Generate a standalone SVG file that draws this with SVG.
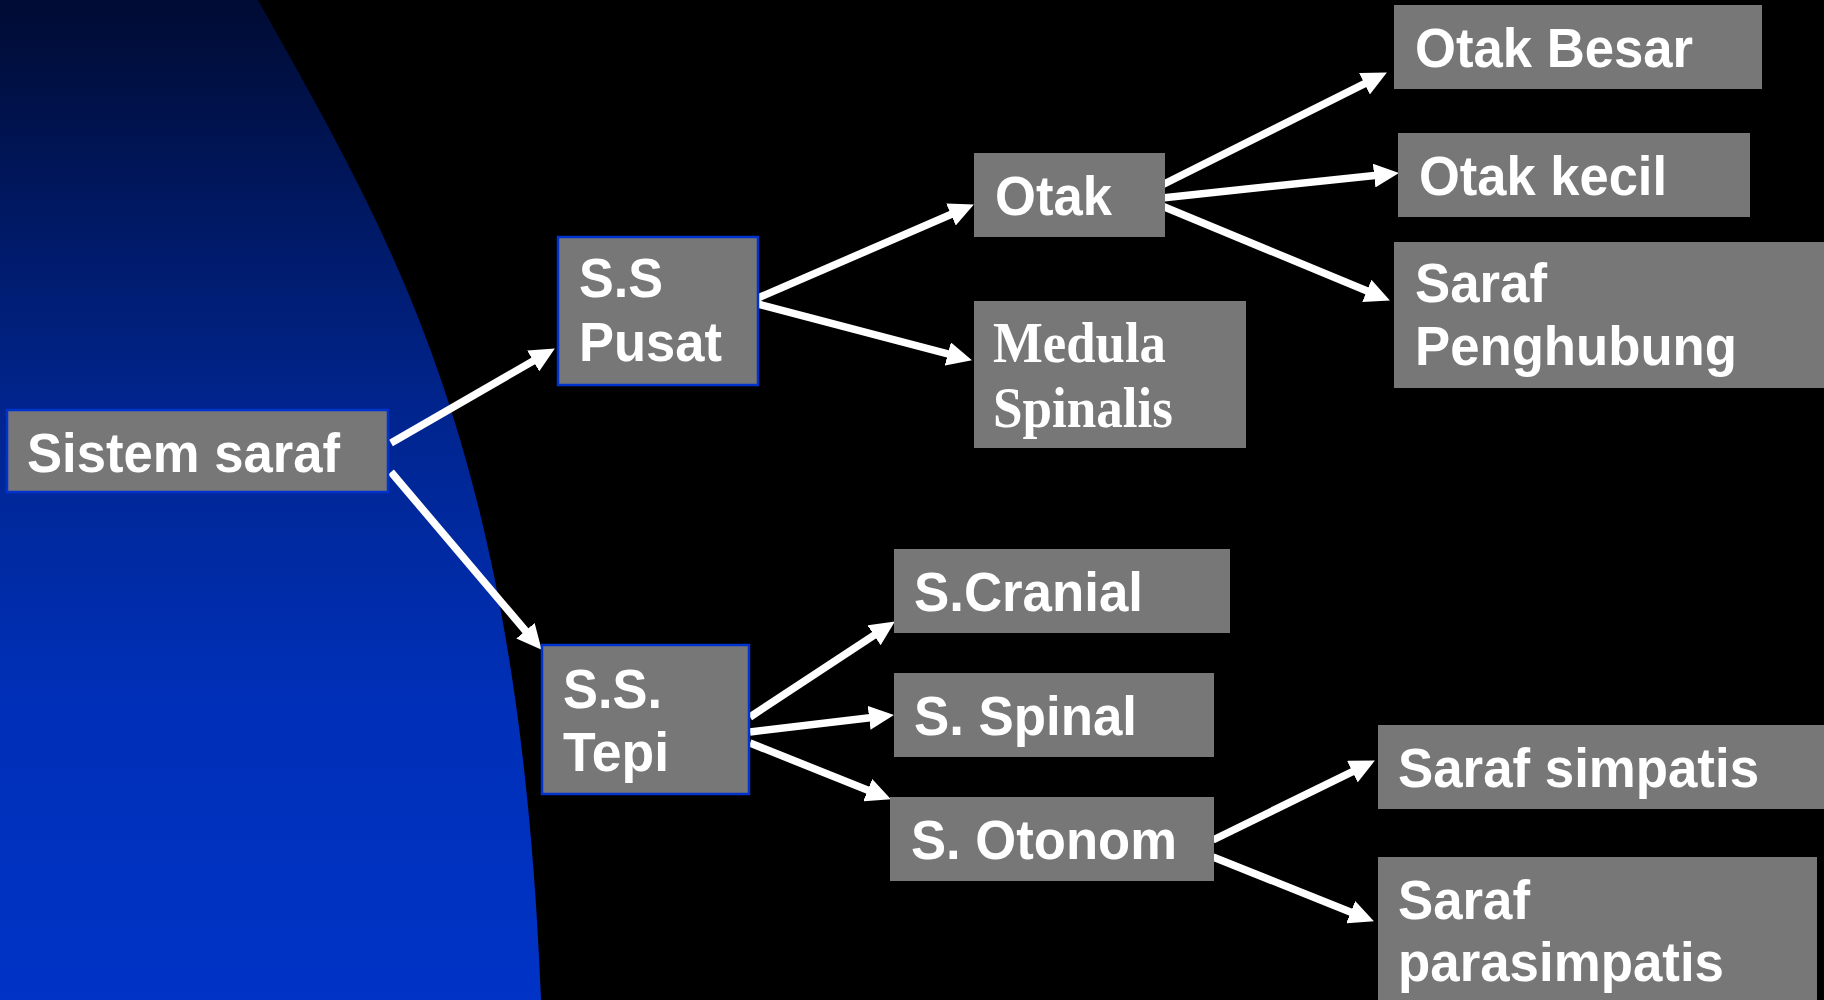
<svg xmlns="http://www.w3.org/2000/svg" width="1824" height="1000" viewBox="0 0 1824 1000">
  <defs>
    <linearGradient id="bg" x1="0" y1="0" x2="0" y2="1000" gradientUnits="userSpaceOnUse">
      <stop offset="0" stop-color="#000b33"/>
      <stop offset="0.4" stop-color="#00248c"/>
      <stop offset="0.7" stop-color="#0030b8"/>
      <stop offset="1" stop-color="#0033c6"/>
    </linearGradient>
    <marker id="ah" markerUnits="userSpaceOnUse" markerWidth="26" markerHeight="24" refX="3" refY="12" orient="auto">
      <path d="M0,0 L25,12 L0,24 z" fill="#ffffff"/>
    </marker>
    <style>
      .box { fill: #777777; }
      .bbox { fill: #777777; stroke: #0033cc; stroke-width: 2.5; }
      .t { font-family: "Liberation Sans", Arial, sans-serif; font-weight: bold; font-size: 56px; fill: #ffffff; }
      .s { font-family: "Liberation Serif", "Times New Roman", serif; font-weight: bold; font-size: 56px; fill: #ffffff; }
      .c { stroke: #ffffff; stroke-width: 7.5; fill: none; marker-end: url(#ah); }
    </style>
  </defs>

  <rect x="0" y="0" width="1824" height="1000" fill="#000000"/>
  <path d="M0,0 L258,0 C398,250 519,450 541,1000 L0,1000 Z" fill="url(#bg)"/>

  <g id="connectors">
    <line class="c" x1="391" y1="443" x2="535.8" y2="359.5"/>
    <line class="c" x1="391" y1="472" x2="527.4" y2="633"/>
    <line class="c" x1="758" y1="298" x2="953.7" y2="213.3"/>
    <line class="c" x1="758" y1="304" x2="950.7" y2="354.7"/>
    <line class="c" x1="1162" y1="185" x2="1367.2" y2="82.4"/>
    <line class="c" x1="1162" y1="198" x2="1377.1" y2="175.2"/>
    <line class="c" x1="1162" y1="206" x2="1369.6" y2="292"/>
    <line class="c" x1="750" y1="717" x2="876.5" y2="633.6"/>
    <line class="c" x1="750" y1="732" x2="872.1" y2="717.5"/>
    <line class="c" x1="750" y1="743" x2="870.5" y2="791.2"/>
    <line class="c" x1="1213" y1="840" x2="1355.1" y2="770.3"/>
    <line class="c" x1="1213" y1="857" x2="1353.5" y2="913.2"/>
  </g>

  <g id="sistem-saraf">
    <rect class="bbox" x="7" y="410" width="381" height="82"/>
    <text class="t" x="27" y="472" textLength="313" lengthAdjust="spacingAndGlyphs">Sistem saraf</text>
  </g>
  <g id="ss-pusat">
    <rect class="bbox" x="558" y="237" width="200" height="148"/>
    <text class="t" x="579" y="297" textLength="84" lengthAdjust="spacingAndGlyphs">S.S</text>
    <text class="t" x="579" y="361" textLength="143" lengthAdjust="spacingAndGlyphs">Pusat</text>
  </g>
  <g id="ss-tepi">
    <rect class="bbox" x="542" y="645" width="207" height="149"/>
    <text class="t" x="563" y="708" textLength="99" lengthAdjust="spacingAndGlyphs">S.S.</text>
    <text class="t" x="563" y="771" textLength="106" lengthAdjust="spacingAndGlyphs">Tepi</text>
  </g>
  <g id="otak">
    <rect class="box" x="974" y="153" width="191" height="84"/>
    <text class="t" x="995" y="215" textLength="117" lengthAdjust="spacingAndGlyphs">Otak</text>
  </g>
  <g id="medula-spinalis">
    <rect class="box" x="974" y="301" width="272" height="147"/>
    <text class="s" x="993" y="362" textLength="173" lengthAdjust="spacingAndGlyphs">Medula</text>
    <text class="s" x="993" y="427" textLength="180" lengthAdjust="spacingAndGlyphs">Spinalis</text>
  </g>
  <g id="otak-besar">
    <rect class="box" x="1394" y="5" width="368" height="84"/>
    <text class="t" x="1415" y="67" textLength="278" lengthAdjust="spacingAndGlyphs">Otak Besar</text>
  </g>
  <g id="otak-kecil">
    <rect class="box" x="1398" y="133" width="352" height="84"/>
    <text class="t" x="1419" y="195" textLength="248" lengthAdjust="spacingAndGlyphs">Otak kecil</text>
  </g>
  <g id="saraf-penghubung">
    <rect class="box" x="1394" y="242" width="430" height="146"/>
    <text class="t" x="1415" y="302" textLength="132" lengthAdjust="spacingAndGlyphs">Saraf</text>
    <text class="t" x="1415" y="365" textLength="322" lengthAdjust="spacingAndGlyphs">Penghubung</text>
  </g>
  <g id="s-cranial">
    <rect class="box" x="894" y="549" width="336" height="84"/>
    <text class="t" x="914" y="611" textLength="229" lengthAdjust="spacingAndGlyphs">S.Cranial</text>
  </g>
  <g id="s-spinal">
    <rect class="box" x="894" y="673" width="320" height="84"/>
    <text class="t" x="914" y="735" textLength="223" lengthAdjust="spacingAndGlyphs">S. Spinal</text>
  </g>
  <g id="s-otonom">
    <rect class="box" x="890" y="797" width="324" height="84"/>
    <text class="t" x="911" y="859" textLength="266" lengthAdjust="spacingAndGlyphs">S. Otonom</text>
  </g>
  <g id="saraf-simpatis">
    <rect class="box" x="1378" y="725" width="446" height="84"/>
    <text class="t" x="1398" y="787" textLength="361" lengthAdjust="spacingAndGlyphs">Saraf simpatis</text>
  </g>
  <g id="saraf-parasimpatis">
    <rect class="box" x="1378" y="857" width="439" height="143"/>
    <text class="t" x="1398" y="919" textLength="132" lengthAdjust="spacingAndGlyphs">Saraf</text>
    <text class="t" x="1398" y="981" textLength="326" lengthAdjust="spacingAndGlyphs">parasimpatis</text>
  </g>
</svg>
